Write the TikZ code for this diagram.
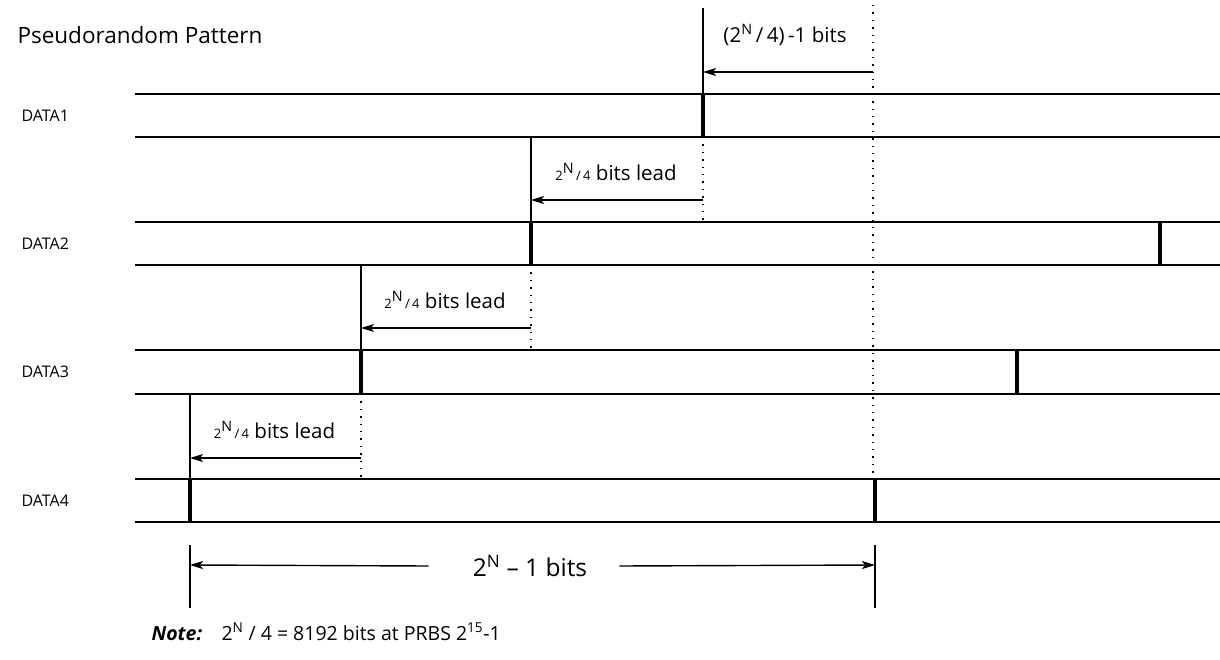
\documentclass[tikz,border=0pt]{standalone}
\usepackage{fontspec}
\setmainfont{Open Sans}
\usetikzlibrary{arrows.meta}

\begin{document}
\begin{tikzpicture}[x=1pt,y=-1pt,
  bus/.style={black, line width=1.6pt},
  edgeline/.style={black, line width=3.2pt},
  thin/.style={black, line width=1.2pt},
  guide/.style={black, line width=1.3pt, dash pattern=on 1.4pt off 6pt},
  lead/.style={black, line width=1.4pt, -{Stealth[length=13pt, width=8pt, inset=3pt]}},
  rowlabel/.style={anchor=west, font=\fontsize{16}{18}\selectfont},
  leadtxt/.style={font=\fontsize{20.5}{22}\selectfont, inner sep=0pt}]
\useasboundingbox (0,0) rectangle (1220,660);

\node[anchor=west, font=\fontsize{22.5}{26}\selectfont] (title) at (14,35) {Pseudorandom Pattern};

% bus rows
\foreach \n/\yt/\yb in {1/94/137,2/222/265,3/350/394,4/479/522} {
  \draw[bus] (135,\yt) -- (1220,\yt);
  \draw[bus] (135,\yb) -- (1220,\yb);
  \node[rowlabel] (data\n) at (18,{(\yt+\yb)/2}) {DATA\n};
}

% pattern starts
\draw[edgeline] (703,94) -- (703,137);
\draw[edgeline] (531,222) -- (531,265);
\draw[edgeline] (1160,222) -- (1160,265);
\draw[edgeline] (361,350) -- (361,394);
\draw[edgeline] (1017,350) -- (1017,394);
\draw[edgeline] (190,479) -- (190,522);
\draw[edgeline] (875,479) -- (875,522);

% offset of DATA1
\coordinate (r0) at (873,72);
\coordinate (l0) at (703,72);
\draw[guide] (873,5) -- (873,479);
\draw[thin] (703,8) -- (703,94);
\draw[lead] (r0) -- (l0);
\node[leadtxt] (off0) at (785,35) {(2\textsuperscript{N}\,/\,4)\,-1 bits};

% leads
\foreach \i/\xr/\xl/\yt/\yb/\ya in {1/703/531/137/222/200,2/531/361/265/350/328,3/361/190/394/479/458} {
  \coordinate (r\i) at (\xr,\ya);
  \coordinate (l\i) at (\xl,\ya);
  \draw[guide] (\xr,\yt) -- (\xr,\yb);
  \draw[thin] (\xl,\yt) -- (\xl,\yb);
  \draw[lead] (r\i) -- (l\i);
  \node[leadtxt] (txt\i) at ({(\xr+\xl)/2-1},{\ya-28}) {{\fontsize{13}{14}\selectfont 2}\textsuperscript{N}{\fontsize{13}{14}\selectfont\,/\,4} bits lead};
}

% full period
\draw[thin] (190,545) -- (190,608);
\draw[thin] (875,545) -- (875,608);
\coordinate (pl) at (190,565);
\coordinate (pr) at (875,565);
\node[font=\fontsize{24.5}{26}\selectfont, inner xsep=0pt] (period) at (530,566) {2\textsuperscript{N} -- 1 bits};
\draw[lead] ([xshift=-44pt]period.west) -- (pl);
\draw[lead] ([xshift=32pt]period.east) -- (pr);

\node[anchor=west, font=\fontsize{19.5}{22}\selectfont] (note) at (148,632)
  {\textbf{\textit{Note:}}\quad 2\textsuperscript{N} / 4 = 8192 bits at PRBS 2\textsuperscript{15}-1};
\end{tikzpicture}
\end{document}
